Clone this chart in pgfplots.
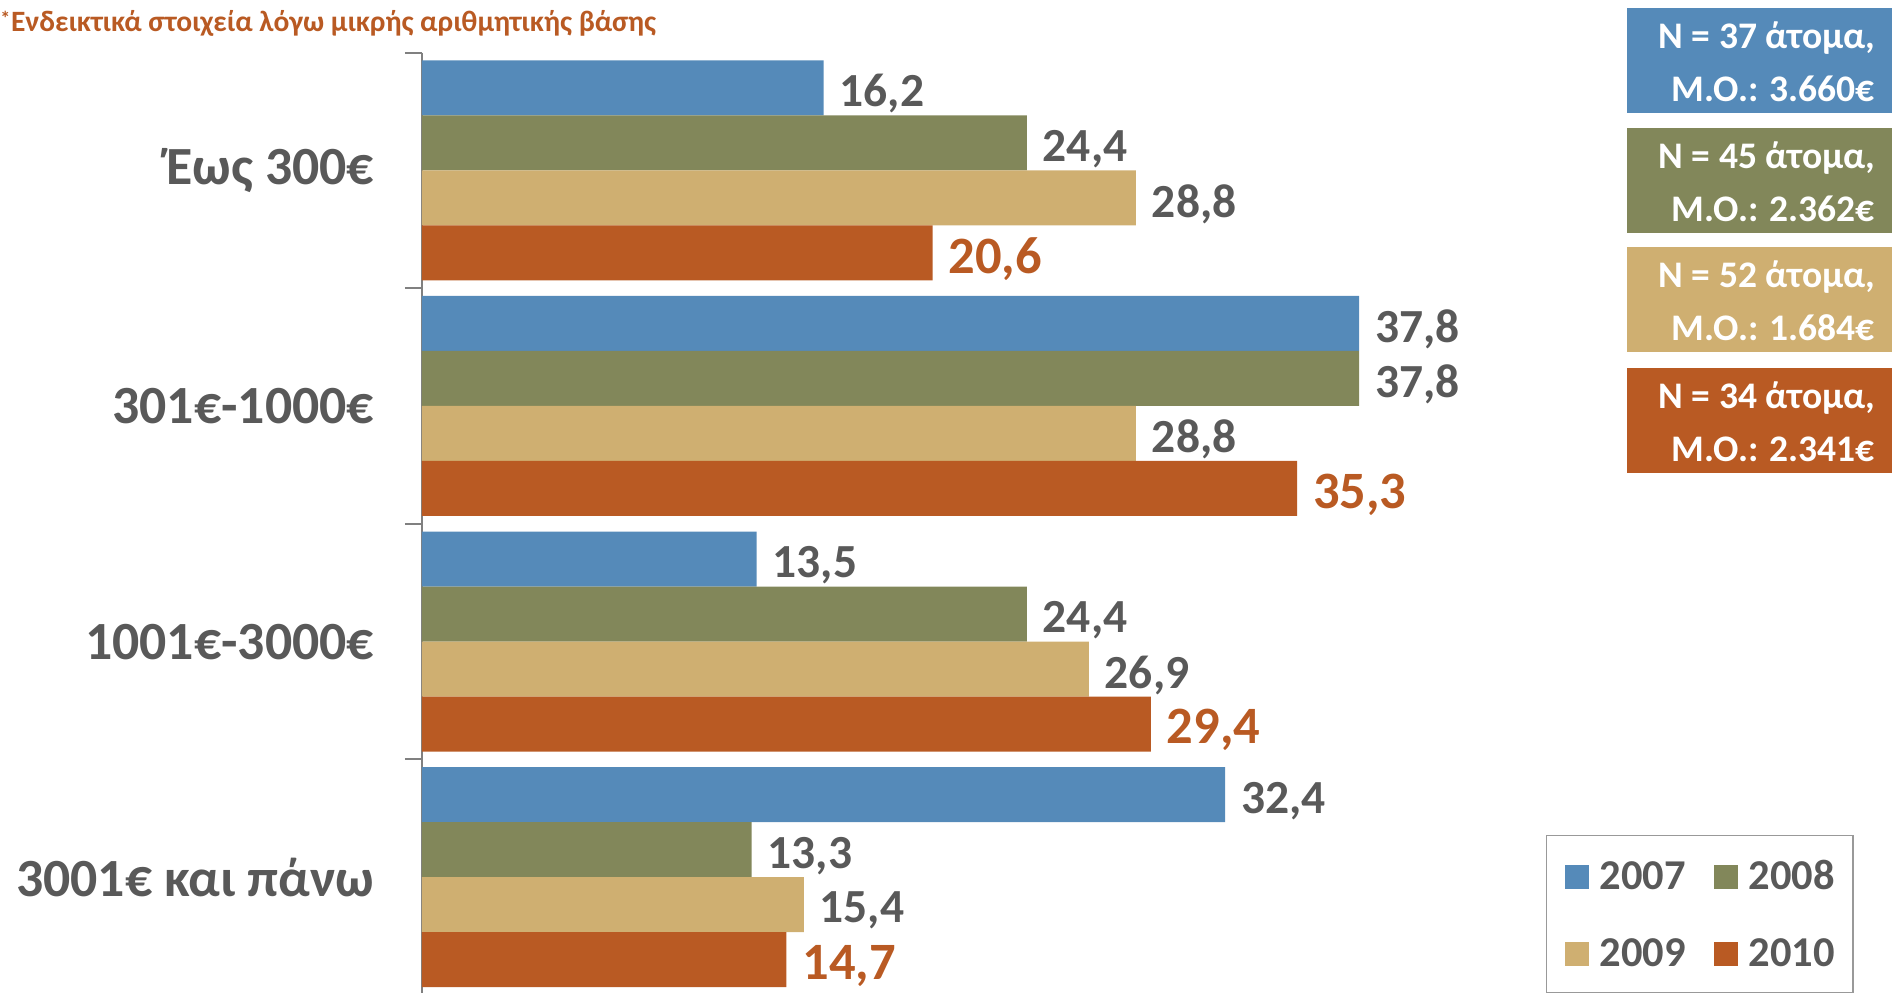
\documentclass[border=0pt]{standalone}
\usepackage{fontspec}
\setmainfont{Carlito}
\usepackage{pgfplots}
\pgfplotsset{compat=1.18}
\definecolor{c07}{RGB}{85,138,185}
\definecolor{c08}{RGB}{130,135,90}
\definecolor{c09}{RGB}{207,175,113}
\definecolor{c10}{RGB}{185,90,35}
\definecolor{tgray}{RGB}{89,89,89}
\begin{document}
\begin{tikzpicture}[x=1pt,y=1pt]
\useasboundingbox (0,0) rectangle (758.4,396.8);
% title
\node[anchor=base west,inner sep=0pt,text=c10,font=\fontsize{11.8}{14}\selectfont\bfseries] at (4.2,384.1) {Ενδεικτικά στοιχεία λόγω μικρής αριθμητικής βάσης};
\node[anchor=base west,inner sep=0pt,text=c10,font=\fontsize{8}{9}\selectfont\bfseries] at (0,386.5) {*};
\begin{axis}[
  at={(168.8pt,-1.2pt)}, anchor=south west,
  scale only axis, width=476pt, height=377pt,
  xbar, bar width=22pt,
  xmin=0, xmax=48, ymin=-0.5, ymax=3.5, y dir=reverse,
  axis x line=none, axis y line*=left,
  axis line style={draw=gray, line width=0.8pt},
  ytick={0,1,2,3},
  yticklabels={Έως 300€, 301€-1000€, 1001€-3000€, 3001€ και πάνω},
  minor ytick={-0.5,0.5,1.5,2.5,3.5},
  major tick length=0pt, minor tick length=6.8pt, tick align=outside,
  tick style={draw=gray, line width=0.8pt},
  yticklabel style={font=\fontsize{21.5}{24}\selectfont\bfseries, text=tgray, inner sep=0pt, xshift=-19pt},
  clip=false,
  nodes near coords,
  every node near coord/.append style={font=\fontsize{19}{21}\selectfont\bfseries, text=tgray, anchor=west, inner sep=0pt, xshift=6.2pt, yshift=-2.4pt},
  /pgf/number format/use comma, /pgf/number format/fixed, /pgf/number format/fixed zerofill, /pgf/number format/precision=1, /pgf/number format/assume math mode=true,
  legend columns=2,
  legend image code/.code={\fill[#1] (0pt,0pt) rectangle (9.6pt,9.6pt);},
  legend style={at={(axis description cs:0.9445,0.1698)}, anchor=north west,
    draw=gray!80, line width=0.6pt, fill=white,
    font=\fontsize{17}{20}\selectfont\bfseries, text=tgray,
    inner xsep=7.2pt, inner ysep=10.6pt,
    nodes={inner sep=0pt, text height=10.8pt, text depth=0pt, anchor=base west},
    column sep=4.4pt, row sep=20pt,
    /tikz/every even column/.append style={column sep=11.2pt}},
]
\addplot[fill=c07, draw=none, bar shift=33pt] coordinates {(16.2,0) (37.8,1) (13.5,2) (32.4,3)};
\addplot[fill=c08, draw=none, bar shift=11pt] coordinates {(24.4,0) (37.8,1) (24.4,2) (13.3,3)};
\addplot[fill=c09, draw=none, bar shift=-11pt] coordinates {(28.8,0) (28.8,1) (26.9,2) (15.4,3)};
\addplot[fill=c10, draw=none, bar shift=-33pt, every node near coord/.append style={font=\fontsize{21}{24}\selectfont\bfseries, text=c10}] coordinates {(20.6,0) (35.3,1) (29.4,2) (14.7,3)};
\legend{2007,2008,2009,2010}
\end{axis}
% info boxes
\begin{scope}[font=\fontsize{15}{18}\selectfont\bfseries, text=white]
\fill[c07] (650.8,393.6) rectangle (756.8,351.6);
\node[anchor=base east,inner sep=0pt] at (750.2,377.4) {N = 37 άτομα,};
\node[anchor=base east,inner sep=0pt] at (750.2,356.2) {Μ.Ο.: 3.660€};
\fill[c08] (650.8,345.6) rectangle (756.8,303.6);
\node[anchor=base east,inner sep=0pt] at (750.2,329.4) {N = 45 άτομα,};
\node[anchor=base east,inner sep=0pt] at (750.2,308.2) {Μ.Ο.: 2.362€};
\fill[c09] (650.8,298) rectangle (756.8,256);
\node[anchor=base east,inner sep=0pt] at (750.2,281.8) {N = 52 άτομα,};
\node[anchor=base east,inner sep=0pt] at (750.2,260.6) {Μ.Ο.: 1.684€};
\fill[c10] (650.8,249.6) rectangle (756.8,207.6);
\node[anchor=base east,inner sep=0pt] at (750.2,233.4) {N = 34 άτομα,};
\node[anchor=base east,inner sep=0pt] at (750.2,212.2) {Μ.Ο.: 2.341€};
\end{scope}
\end{tikzpicture}
\end{document}
